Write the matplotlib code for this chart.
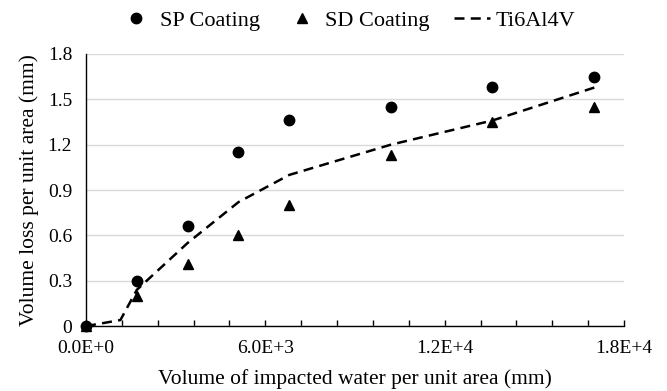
import numpy as np
import matplotlib
matplotlib.use('Agg')
import matplotlib.pyplot as plt
from matplotlib.ticker import MultipleLocator, FuncFormatter

plt.rcParams['font.family'] = ['Liberation Serif', 'DejaVu Serif']

# data
x_pts = [0, 1700, 3400, 5100, 6800, 10200, 13600, 17000]
sp_coating = [0, 0.30, 0.66, 1.15, 1.36, 1.45, 1.58, 1.65]
sd_coating = [0, 0.20, 0.41, 0.60, 0.80, 1.13, 1.35, 1.45]

ti_x = [0, 1150, 1700, 3400, 5100, 6800, 10200, 13600, 17200]
ti_y = [0, 0.04, 0.24, 0.55, 0.82, 1.00, 1.20, 1.36, 1.59]

fig = plt.figure(figsize=(6.67, 3.91), dpi=100)
ax = fig.add_axes([0.129, 0.166, 0.8065, 0.696])

ax.plot(x_pts, sp_coating, 'o', color='black', markersize=7.5, label='SP Coating',
        zorder=4, clip_on=False)
ax.plot(x_pts, sd_coating, '^', color='black', markersize=7.5, label='SD Coating',
        zorder=4, clip_on=False)
ax.plot(ti_x, ti_y, '--', color='black', linewidth=1.8, dashes=(4, 2.5), label='Ti6Al4V', zorder=2)

ax.set_xlim(0, 18000)
ax.set_ylim(0, 1.8)
ax.xaxis.set_major_locator(MultipleLocator(1200))
ax.yaxis.set_major_locator(MultipleLocator(0.3))

def xfmt(v, pos):
    if abs(v % 6000) > 1e-6:
        return ''
    s = '%.1E' % v
    mant, exp = s.split('E')
    return '%sE+%d' % (mant, int(exp))

def yfmt(v, pos):
    if abs(v) < 1e-9:
        return '0'
    return '%.1f' % v

ax.xaxis.set_major_formatter(FuncFormatter(xfmt))
ax.yaxis.set_major_formatter(FuncFormatter(yfmt))

ax.tick_params(axis='x', direction='in', length=4, width=1, labelsize=14, pad=10)
ax.tick_params(axis='y', length=0, labelsize=14, pad=10)

ax.grid(axis='y', color='#d9d9d9', linewidth=1)
ax.set_axisbelow(True)
for s in ['top', 'right']:
    ax.spines[s].set_visible(False)
ax.spines['left'].set_linewidth(1)
ax.spines['bottom'].set_linewidth(1)

ax.set_xlabel('Volume of impacted water per unit area (mm)', fontsize=15.5, labelpad=9)
ax.set_ylabel('Volume loss per unit area (mm)', fontsize=15.5, labelpad=6)

fig.legend(loc='upper center', bbox_to_anchor=(0.52, 1.025), ncol=3, frameon=False,
           fontsize=16, handlelength=1.6, columnspacing=1.1, handletextpad=0.25)

fig.savefig('out.png', dpi=100)
